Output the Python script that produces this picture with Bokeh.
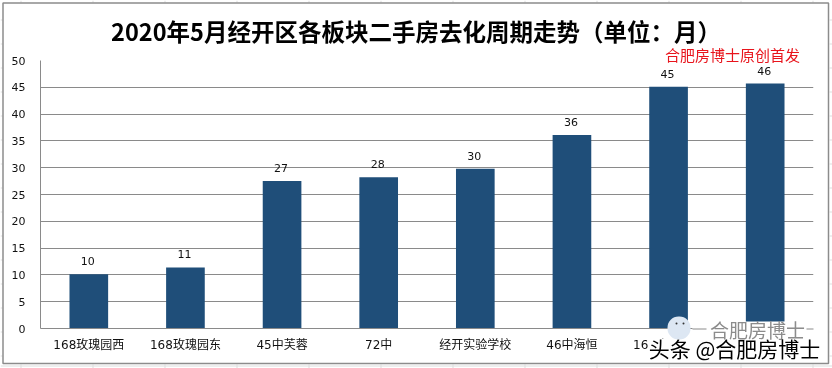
from bokeh.plotting import figure
from bokeh.embed import file_html
from bokeh.resources import INLINE
from bokeh.models import Label, FixedTicker, ColumnDataSource, Range1d, BoxAnnotation, LabelSet
from bokeh.core.properties import value

categories = ["168玫瑰园西", "168玫瑰园东", "45中芙蓉", "72中", "经开实验学校", "46中海恒", "168玫瑰公馆", " "]
heights = [10.1, 11.4, 27.5, 28.2, 29.8, 36.1, 45.1, 45.7]
labels = ["10", "11", "27", "28", "30", "36", "45", "46"]
y_ticks = [0, 5, 10, 15, 20, 25, 30, 35, 40, 45, 50]
title = "2020年5月经开区各板块二手房去化周期走势（单位：月）"
note = "合肥房博士原创首发"
wm1 = "合肥房博士"
wm2 = "头条 @合肥房博士"
CJK = "Noto Sans CJK SC"
GRID = "#8a8a8a"

W, H = 832, 368
FIXED = {"position": "fixed", "left": "0px", "top": "0px"}

p = figure(width=W, height=H, x_range=categories, y_range=Range1d(0, 50),
           output_backend="svg", toolbar_location=None,
           min_border_left=40, min_border_right=19, min_border_top=60, min_border_bottom=40,
           background_fill_color="white", border_fill_color="white",
           outline_line_color=None, styles=FIXED)

p.yaxis.ticker = FixedTicker(ticks=y_ticks)
p.ygrid.ticker = FixedTicker(ticks=y_ticks)
p.ygrid.grid_line_color = GRID
p.ygrid.grid_line_width = 1
p.xgrid.grid_line_color = None
p.xaxis.axis_line_color = GRID
p.yaxis.axis_line_color = GRID
p.xaxis.major_tick_line_color = None
p.yaxis.major_tick_line_color = None
p.xaxis.minor_tick_line_color = None
p.yaxis.minor_tick_line_color = None
p.yaxis.major_label_text_font = "DejaVu Sans"
p.yaxis.major_label_text_font_size = "11px"
p.yaxis.major_label_text_color = "#111111"
p.yaxis.major_label_standoff = 9
p.xaxis.major_label_text_font = "DejaVu Sans, 'Noto Sans CJK SC'"
p.xaxis.major_label_text_font_size = "12px"
p.xaxis.major_label_text_color = "#111111"
p.xaxis.major_label_standoff = 3

src = ColumnDataSource(dict(x=categories, top=heights, label=labels))
p.vbar(x="x", top="top", width=0.4, source=src, color="#1f4e79", line_color=None)
p.add_layout(LabelSet(x="x", y="top", text="label", source=src, y_offset=9, x_offset=-1,
                      text_align="center", text_font=value("DejaVu Sans"),
                      text_font_size="11px", text_color="#111111"))

# Transparent sheet over the chart: its frame is the whole page, its units are page pixels.
o = figure(width=W, height=H, x_range=Range1d(0, W), y_range=Range1d(H, 0),
           output_backend="svg", toolbar_location=None,
           x_axis_location=None, y_axis_location=None,
           min_border=0, outline_line_color=None,
           background_fill_alpha=0, border_fill_alpha=0, styles=FIXED)
o.grid.visible = False


def box(x0, x1, y0, y1, fill=None, line=None, lw=1.0, radius=0):
    o.add_layout(BoxAnnotation(left=x0, right=x1, top=y0, bottom=y1,
                               fill_color=fill or "white", fill_alpha=1 if fill else 0,
                               line_color=line or "white", line_alpha=1 if line else 0,
                               line_width=lw, border_radius=radius, editable=False))


def text(s, x, y, size, color, bold=False):
    o.add_layout(Label(x=x, y=y, text=s, text_font=CJK, text_font_size=size,
                       text_color=color, text_font_style="bold" if bold else "normal",
                       text_align="center", text_baseline="middle"))


# Excel cell grid showing around the chart
for sx in [20, 92, 164, 236, 308, 380, 452, 524, 596, 668, 740, 812]:
    box(sx, sx + 1, 0, 2, fill="#dedede")
    box(sx, sx + 1, 364, 368, fill="#dedede")
for sy in [19, 43, 67, 91, 115, 139, 163, 187, 211, 235, 259, 283, 307, 331, 355]:
    box(0, 2, sy, sy + 1, fill="#dedede")
    box(829, 832, sy, sy + 1, fill="#dedede")
box(0, 832, 365, 366, fill="#dedede")
box(2.5, 828, 2.5, 363, line="#8c8c8c", lw=1.5)

text(title, 415.5, 30, "23.5px", "#000000", bold=True)
text(note, 732, 54, "15px", "#e8141c")

# watermark: white patch that hides what lies under it, then the marks
box(692, 814, 321, 358, fill="white")
box(648, 822, 338, 358, fill="white")
box(692, 706, 328, 329, fill=GRID)
box(806, 813, 328, 329, fill=GRID)
box(667, 690, 316, 339, fill="#dde7f3", radius=11)
box(675, 677, 322, 324, fill="#333333", radius=1)
box(682, 684, 322, 324, fill="#333333", radius=1)
text(wm1, 757, 329, "19px", "#8c8c8c")
text(wm2, 734, 347, "21px", "#000000")

open("out.html", "w").write(file_html([p, o], INLINE))
